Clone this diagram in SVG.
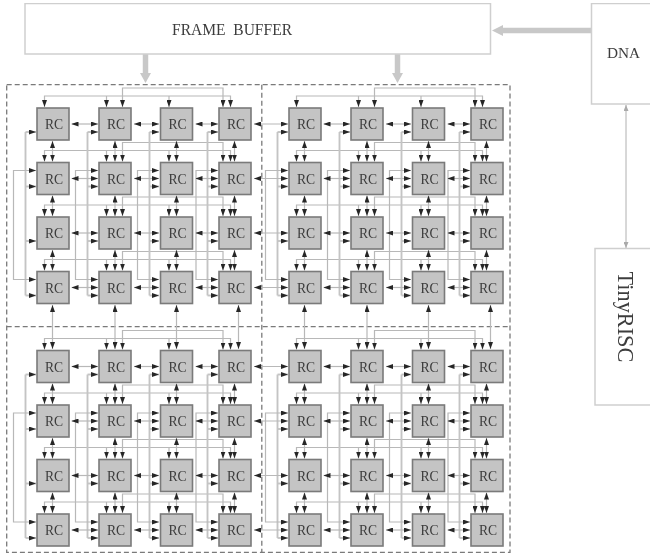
<svg xmlns="http://www.w3.org/2000/svg" xmlns:xlink="http://www.w3.org/1999/xlink" width="650" height="553" viewBox="0 0 650 553">
<style>
text{font-family:"Liberation Serif","Times New Roman",serif;fill:#3c3c3c;white-space:pre}
.box{fill:#fff;stroke:#cfcfcf;stroke-width:1.5}
.rc rect{fill:#c4c4c4;stroke:#7a7a7a;stroke-width:1.6}
.rc text{font-size:15.5px;text-anchor:middle;transform-box:fill-box;transform-origin:center;transform:scaleX(.88)}
.dash{fill:none;stroke:#7a7a7a;stroke-width:1.3;stroke-dasharray:5 3}
.w{fill:none;stroke:#b8b8b8;stroke-width:1.2}
.t{fill:none;stroke:#c4c4c4;stroke-width:1.9}
.a{marker-end:url(#ah)}
.b{marker-start:url(#ah);marker-end:url(#ah)}
.fat{fill:none;stroke:#c8c8c8;stroke-width:5.5}
</style>
<defs>
<marker id="ah" markerUnits="userSpaceOnUse" viewBox="0 0 7 5" refX="7" refY="2.5" markerWidth="7" markerHeight="5" orient="auto-start-reverse"><path d="M0 0L7 2.5L0 5Z" fill="#262626"/></marker>
<marker id="lh" markerUnits="userSpaceOnUse" viewBox="0 0 6 5" refX="6" refY="2.5" markerWidth="6" markerHeight="5" orient="auto-start-reverse"><path d="M0 0L6 2.5L0 5Z" fill="#aaa"/></marker>
<filter id="soft" x="0" y="0" width="100%" height="100%"><feGaussianBlur stdDeviation="0.4"/></filter>
<g id="quad">
<path class="w b" d="M122.5 107V88H223V107"/><path class="w b" d="M44.5 107V96H230.5V107"/><path class="w a" d="M106.5 96V107"/><path class="w a" d="M169 96V107"/>
<path class="w b" d="M122.5 161.5V142.5H223V161.5"/><path class="w b" d="M44.5 161.5V150.5H230.5V161.5"/><path class="w a" d="M106.5 150.5V161.5"/><path class="w a" d="M169 150.5V161.5"/>
<path class="w b" d="M122.5 216V197H223V216"/><path class="w b" d="M44.5 216V205H230.5V216"/><path class="w a" d="M106.5 205V216"/><path class="w a" d="M169 205V216"/>
<path class="w b" d="M122.5 270.5V251.5H223V270.5"/><path class="w b" d="M44.5 270.5V259.5H230.5V270.5"/><path class="w a" d="M106.5 259.5V270.5"/><path class="w a" d="M169 259.5V270.5"/>
<path class="w b" d="M52.5 141V161.5"/><path class="w b" d="M115 141V161.5"/><path class="w b" d="M176.5 141V161.5"/><path class="w b" d="M234.5 141V161.5"/>
<path class="w b" d="M52.5 195.5V216"/><path class="w b" d="M115 195.5V216"/><path class="w b" d="M176.5 195.5V216"/><path class="w b" d="M234.5 195.5V216"/>
<path class="w b" d="M52.5 250V270.5"/><path class="w b" d="M115 250V270.5"/><path class="w b" d="M176.5 250V270.5"/><path class="w b" d="M234.5 250V270.5"/>
<path class="t" d="M25.5 132V295.5"/><path class="t" d="M87.5 132V295.5"/><path class="t" d="M149.5 132V295.5"/><path class="t" d="M207.5 132V295.5"/>
<path class="t a" d="M25.5 132H36"/><path class="t a" d="M25.5 186.5H36"/><path class="t a" d="M25.5 241H36"/><path class="t a" d="M25.5 295.5H36"/>
<path class="t a" d="M87.5 132H98"/><path class="t a" d="M87.5 186.5H98"/><path class="t a" d="M87.5 241H98"/><path class="t a" d="M87.5 295.5H98"/>
<path class="t a" d="M149.5 132H159"/><path class="t a" d="M149.5 186.5H159"/><path class="t a" d="M149.5 241H159"/><path class="t a" d="M149.5 295.5H159"/>
<path class="t a" d="M207.5 132H218"/><path class="t a" d="M207.5 186.5H218"/><path class="t a" d="M207.5 241H218"/><path class="t a" d="M207.5 295.5H218"/>
<path class="w b" d="M36 170.5H13.5V279.5H36"/><path class="w b" d="M98 170.5H75.5V279.5H98"/><path class="w b" d="M159 170.5H137.5V279.5H159"/><path class="w b" d="M218 170.5H196V279.5H218"/>
<path class="w b" d="M71.5 124H98"/><path class="w b" d="M134 124H159"/><path class="w b" d="M195.5 124H218"/>
<path class="w b" d="M71.5 178.5H98"/><path class="w b" d="M134 178.5H159"/><path class="w b" d="M195.5 178.5H218"/>
<path class="w b" d="M71.5 233H98"/><path class="w b" d="M134 233H159"/><path class="w b" d="M195.5 233H218"/>
<path class="w b" d="M71.5 287.5H98"/><path class="w b" d="M134 287.5H159"/><path class="w b" d="M195.5 287.5H218"/>
</g>
<g id="east">
<path class="w b" d="M254 124H288"/><path class="w b" d="M254 178.5H288"/><path class="w b" d="M254 233H288"/><path class="w b" d="M254 287.5H288"/>
</g>
<g id="south">
<path class="w b" d="M52.5 305V349"/><path class="w b" d="M115 305V349"/><path class="w b" d="M176.5 305V349"/><path class="w b" d="M238.5 305V349"/>
</g>
</defs>
<rect width="650" height="553" fill="#fff"/>
<g filter="url(#soft)">
<g id="regions">
<rect class="dash" x="6.7" y="84.7" width="503.3" height="467.6"/>
<path class="dash" d="M261.8 84.7V552.3"/>
<path class="dash" d="M6.7 326.7H510"/>
</g>
<g id="connectors">
<use href="#quad"/><use href="#quad" x="252"/><use href="#quad" y="242.5"/><use href="#quad" x="252" y="242.5"/>
<use href="#east"/><use href="#east" y="242.5"/>
<use href="#south"/><use href="#south" x="252"/>
<path class="fat" d="M145.5 54V74"/><path d="M140 73H151L145.5 83Z" fill="#c8c8c8"/>
<path class="fat" d="M397.5 54V74"/><path d="M392 73H403L397.5 83Z" fill="#c8c8c8"/>
<path class="fat" d="M591 30.5H502"/><path d="M503 25V36L492 30.5Z" fill="#c8c8c8"/>
<path d="M626 105V248" fill="none" stroke="#b0b0b0" stroke-width="1" marker-start="url(#lh)" marker-end="url(#lh)"/>
</g>
<g id="frame-buffer"><rect class="box" x="25" y="3.5" width="465.5" height="50.5"/><text x="172" y="34.5" font-size="16" textLength="120" lengthAdjust="spacingAndGlyphs">FRAME  BUFFER</text></g>
<g id="dna"><path class="box" d="M651 3.5H591.5V104H651"/><text x="607" y="58" font-size="15.3">DNA</text></g>
<g id="tinyrisc"><path class="box" d="M651 248.5H595V405H651"/><text transform="translate(618 271.5) rotate(90)" font-size="22.3">TinyRISC</text></g>
<g id="rc-1-1-1" class="rc" transform="translate(37 108)"><rect width="32" height="32"/><text x="17" y="21.5">RC</text></g>
<g id="rc-1-1-2" class="rc" transform="translate(99 108)"><rect width="32" height="32"/><text x="17" y="21.5">RC</text></g>
<g id="rc-1-1-3" class="rc" transform="translate(160.5 108)"><rect width="32" height="32"/><text x="17" y="21.5">RC</text></g>
<g id="rc-1-1-4" class="rc" transform="translate(219 108)"><rect width="32" height="32"/><text x="17" y="21.5">RC</text></g>
<g id="rc-1-2-1" class="rc" transform="translate(37 162.5)"><rect width="32" height="32"/><text x="17" y="21.5">RC</text></g>
<g id="rc-1-2-2" class="rc" transform="translate(99 162.5)"><rect width="32" height="32"/><text x="17" y="21.5">RC</text></g>
<g id="rc-1-2-3" class="rc" transform="translate(160.5 162.5)"><rect width="32" height="32"/><text x="17" y="21.5">RC</text></g>
<g id="rc-1-2-4" class="rc" transform="translate(219 162.5)"><rect width="32" height="32"/><text x="17" y="21.5">RC</text></g>
<g id="rc-1-3-1" class="rc" transform="translate(37 217)"><rect width="32" height="32"/><text x="17" y="21.5">RC</text></g>
<g id="rc-1-3-2" class="rc" transform="translate(99 217)"><rect width="32" height="32"/><text x="17" y="21.5">RC</text></g>
<g id="rc-1-3-3" class="rc" transform="translate(160.5 217)"><rect width="32" height="32"/><text x="17" y="21.5">RC</text></g>
<g id="rc-1-3-4" class="rc" transform="translate(219 217)"><rect width="32" height="32"/><text x="17" y="21.5">RC</text></g>
<g id="rc-1-4-1" class="rc" transform="translate(37 271.5)"><rect width="32" height="32"/><text x="17" y="21.5">RC</text></g>
<g id="rc-1-4-2" class="rc" transform="translate(99 271.5)"><rect width="32" height="32"/><text x="17" y="21.5">RC</text></g>
<g id="rc-1-4-3" class="rc" transform="translate(160.5 271.5)"><rect width="32" height="32"/><text x="17" y="21.5">RC</text></g>
<g id="rc-1-4-4" class="rc" transform="translate(219 271.5)"><rect width="32" height="32"/><text x="17" y="21.5">RC</text></g>
<g id="rc-2-1-1" class="rc" transform="translate(289 108)"><rect width="32" height="32"/><text x="17" y="21.5">RC</text></g>
<g id="rc-2-1-2" class="rc" transform="translate(351 108)"><rect width="32" height="32"/><text x="17" y="21.5">RC</text></g>
<g id="rc-2-1-3" class="rc" transform="translate(412.5 108)"><rect width="32" height="32"/><text x="17" y="21.5">RC</text></g>
<g id="rc-2-1-4" class="rc" transform="translate(471 108)"><rect width="32" height="32"/><text x="17" y="21.5">RC</text></g>
<g id="rc-2-2-1" class="rc" transform="translate(289 162.5)"><rect width="32" height="32"/><text x="17" y="21.5">RC</text></g>
<g id="rc-2-2-2" class="rc" transform="translate(351 162.5)"><rect width="32" height="32"/><text x="17" y="21.5">RC</text></g>
<g id="rc-2-2-3" class="rc" transform="translate(412.5 162.5)"><rect width="32" height="32"/><text x="17" y="21.5">RC</text></g>
<g id="rc-2-2-4" class="rc" transform="translate(471 162.5)"><rect width="32" height="32"/><text x="17" y="21.5">RC</text></g>
<g id="rc-2-3-1" class="rc" transform="translate(289 217)"><rect width="32" height="32"/><text x="17" y="21.5">RC</text></g>
<g id="rc-2-3-2" class="rc" transform="translate(351 217)"><rect width="32" height="32"/><text x="17" y="21.5">RC</text></g>
<g id="rc-2-3-3" class="rc" transform="translate(412.5 217)"><rect width="32" height="32"/><text x="17" y="21.5">RC</text></g>
<g id="rc-2-3-4" class="rc" transform="translate(471 217)"><rect width="32" height="32"/><text x="17" y="21.5">RC</text></g>
<g id="rc-2-4-1" class="rc" transform="translate(289 271.5)"><rect width="32" height="32"/><text x="17" y="21.5">RC</text></g>
<g id="rc-2-4-2" class="rc" transform="translate(351 271.5)"><rect width="32" height="32"/><text x="17" y="21.5">RC</text></g>
<g id="rc-2-4-3" class="rc" transform="translate(412.5 271.5)"><rect width="32" height="32"/><text x="17" y="21.5">RC</text></g>
<g id="rc-2-4-4" class="rc" transform="translate(471 271.5)"><rect width="32" height="32"/><text x="17" y="21.5">RC</text></g>
<g id="rc-3-1-1" class="rc" transform="translate(37 350.5)"><rect width="32" height="32"/><text x="17" y="21.5">RC</text></g>
<g id="rc-3-1-2" class="rc" transform="translate(99 350.5)"><rect width="32" height="32"/><text x="17" y="21.5">RC</text></g>
<g id="rc-3-1-3" class="rc" transform="translate(160.5 350.5)"><rect width="32" height="32"/><text x="17" y="21.5">RC</text></g>
<g id="rc-3-1-4" class="rc" transform="translate(219 350.5)"><rect width="32" height="32"/><text x="17" y="21.5">RC</text></g>
<g id="rc-3-2-1" class="rc" transform="translate(37 405)"><rect width="32" height="32"/><text x="17" y="21.5">RC</text></g>
<g id="rc-3-2-2" class="rc" transform="translate(99 405)"><rect width="32" height="32"/><text x="17" y="21.5">RC</text></g>
<g id="rc-3-2-3" class="rc" transform="translate(160.5 405)"><rect width="32" height="32"/><text x="17" y="21.5">RC</text></g>
<g id="rc-3-2-4" class="rc" transform="translate(219 405)"><rect width="32" height="32"/><text x="17" y="21.5">RC</text></g>
<g id="rc-3-3-1" class="rc" transform="translate(37 459.5)"><rect width="32" height="32"/><text x="17" y="21.5">RC</text></g>
<g id="rc-3-3-2" class="rc" transform="translate(99 459.5)"><rect width="32" height="32"/><text x="17" y="21.5">RC</text></g>
<g id="rc-3-3-3" class="rc" transform="translate(160.5 459.5)"><rect width="32" height="32"/><text x="17" y="21.5">RC</text></g>
<g id="rc-3-3-4" class="rc" transform="translate(219 459.5)"><rect width="32" height="32"/><text x="17" y="21.5">RC</text></g>
<g id="rc-3-4-1" class="rc" transform="translate(37 514)"><rect width="32" height="32"/><text x="17" y="21.5">RC</text></g>
<g id="rc-3-4-2" class="rc" transform="translate(99 514)"><rect width="32" height="32"/><text x="17" y="21.5">RC</text></g>
<g id="rc-3-4-3" class="rc" transform="translate(160.5 514)"><rect width="32" height="32"/><text x="17" y="21.5">RC</text></g>
<g id="rc-3-4-4" class="rc" transform="translate(219 514)"><rect width="32" height="32"/><text x="17" y="21.5">RC</text></g>
<g id="rc-4-1-1" class="rc" transform="translate(289 350.5)"><rect width="32" height="32"/><text x="17" y="21.5">RC</text></g>
<g id="rc-4-1-2" class="rc" transform="translate(351 350.5)"><rect width="32" height="32"/><text x="17" y="21.5">RC</text></g>
<g id="rc-4-1-3" class="rc" transform="translate(412.5 350.5)"><rect width="32" height="32"/><text x="17" y="21.5">RC</text></g>
<g id="rc-4-1-4" class="rc" transform="translate(471 350.5)"><rect width="32" height="32"/><text x="17" y="21.5">RC</text></g>
<g id="rc-4-2-1" class="rc" transform="translate(289 405)"><rect width="32" height="32"/><text x="17" y="21.5">RC</text></g>
<g id="rc-4-2-2" class="rc" transform="translate(351 405)"><rect width="32" height="32"/><text x="17" y="21.5">RC</text></g>
<g id="rc-4-2-3" class="rc" transform="translate(412.5 405)"><rect width="32" height="32"/><text x="17" y="21.5">RC</text></g>
<g id="rc-4-2-4" class="rc" transform="translate(471 405)"><rect width="32" height="32"/><text x="17" y="21.5">RC</text></g>
<g id="rc-4-3-1" class="rc" transform="translate(289 459.5)"><rect width="32" height="32"/><text x="17" y="21.5">RC</text></g>
<g id="rc-4-3-2" class="rc" transform="translate(351 459.5)"><rect width="32" height="32"/><text x="17" y="21.5">RC</text></g>
<g id="rc-4-3-3" class="rc" transform="translate(412.5 459.5)"><rect width="32" height="32"/><text x="17" y="21.5">RC</text></g>
<g id="rc-4-3-4" class="rc" transform="translate(471 459.5)"><rect width="32" height="32"/><text x="17" y="21.5">RC</text></g>
<g id="rc-4-4-1" class="rc" transform="translate(289 514)"><rect width="32" height="32"/><text x="17" y="21.5">RC</text></g>
<g id="rc-4-4-2" class="rc" transform="translate(351 514)"><rect width="32" height="32"/><text x="17" y="21.5">RC</text></g>
<g id="rc-4-4-3" class="rc" transform="translate(412.5 514)"><rect width="32" height="32"/><text x="17" y="21.5">RC</text></g>
<g id="rc-4-4-4" class="rc" transform="translate(471 514)"><rect width="32" height="32"/><text x="17" y="21.5">RC</text></g>
</g>
</svg>
